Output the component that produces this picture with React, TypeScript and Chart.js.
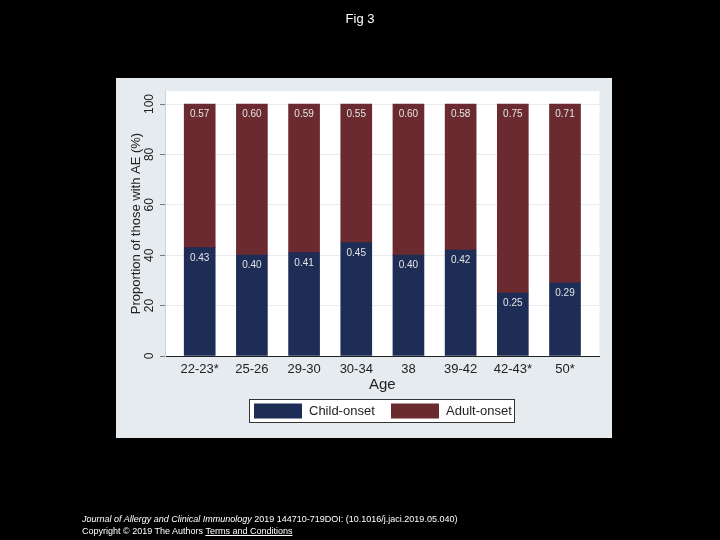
import React, { useEffect, useRef } from "react";
import { Chart, registerables } from "chart.js";

Chart.register(...registerables);

const categories = ["22-23*", "25-26", "29-30", "30-34", "38", "39-42", "42-43*", "50*"];
const childOnset = [0.43, 0.40, 0.41, 0.45, 0.40, 0.42, 0.25, 0.29];
const adultOnset = [0.57, 0.60, 0.59, 0.55, 0.60, 0.58, 0.75, 0.71];
const seriesNames = ["Child-onset", "Adult-onset"];
const yTicks = [0, 20, 40, 60, 80, 100];

const NAVY = "#1e2d56";
const MAROON = "#6a2a30";
const FONT = "'Liberation Sans', Arial, sans-serif";

const panelPlugin = {
  id: "panelBg",
  beforeDraw(chart: any) {
    const { ctx, chartArea } = chart;
    ctx.save();
    ctx.fillStyle = "#000000";
    ctx.fillRect(0, 0, chart.width, chart.height);
    ctx.fillStyle = "#e6ebef";
    ctx.fillRect(116, 78, 496, 360);
    ctx.fillStyle = "#ffffff";
    ctx.fillRect(chartArea.left, chartArea.top, chartArea.right - chartArea.left, chartArea.bottom - chartArea.top);
    ctx.restore();
  },
};

const valueLabelPlugin = {
  id: "valueLabels",
  afterDatasetsDraw(chart: any) {
    const { ctx } = chart;
    ctx.save();
    ctx.font = `10px ${FONT}`;
    ctx.fillStyle = "#e4e4e4";
    ctx.textAlign = "center";
    ctx.textBaseline = "middle";
    chart.data.datasets.forEach((ds: any, i: number) => {
      const meta = chart.getDatasetMeta(i);
      meta.data.forEach((bar: any, j: number) => {
        const v = ds.rawValues[j];
        ctx.fillText(v.toFixed(2), bar.x, bar.y + 10.5);
      });
    });
    ctx.restore();
  },
};

const legendPlugin = {
  id: "boxLegend",
  afterDraw(chart: any) {
    const { ctx, chartArea } = chart;
    const left = chartArea.left + 84;
    const top = chartArea.bottom + 43;
    const w = 266;
    const h = 24;
    ctx.save();
    ctx.fillStyle = "#ffffff";
    ctx.fillRect(left, top, w, h);
    ctx.strokeStyle = "#333333";
    ctx.lineWidth = 1;
    ctx.strokeRect(left + 0.5, top + 0.5, w - 1, h - 1);
    const offsets = [5, 142];
    chart.data.datasets.forEach((ds: any, i: number) => {
      const x = left + offsets[i];
      ctx.fillStyle = ds.backgroundColor;
      ctx.fillRect(x, top + 4.5, 48, 15);
      ctx.fillStyle = "#222222";
      ctx.font = `13px ${FONT}`;
      ctx.textAlign = "left";
      ctx.textBaseline = "middle";
      ctx.fillText(ds.label, x + 55, top + 12.5);
    });
    ctx.restore();
  },
};

export default function App() {
  const ref = useRef<HTMLCanvasElement | null>(null);

  useEffect(() => {
    if (!ref.current) return;
    Chart.defaults.font.family = FONT;
    const chart = new Chart(ref.current, {
      type: "bar",
      data: {
        datasets: [
          {
            label: seriesNames[0],
            data: childOnset.map((v, i) => ({ x: i, y: v * 100 })),
            rawValues: childOnset,
            backgroundColor: NAVY,
            borderWidth: 0,
            barThickness: 31,
          } as any,
          {
            label: seriesNames[1],
            data: adultOnset.map((v, i) => ({ x: i, y: v * 100 })),
            rawValues: adultOnset,
            backgroundColor: MAROON,
            borderWidth: 0,
            barThickness: 31,
          } as any,
        ],
      },
      options: {
        responsive: false,
        devicePixelRatio: 1,
        animation: false,
        layout: { padding: { left: 116, top: 91, right: 120.5, bottom: 144 } },
        plugins: { legend: { display: false }, title: { display: false }, tooltip: { enabled: false } },
        scales: {
          x: {
            type: "linear",
            stacked: true,
            offset: false,
            min: -0.665,
            max: 7.661,
            afterBuildTicks: (s: any) => {
              s.ticks = categories.map((_, i) => ({ value: i }));
            },
            afterFit: (s: any) => {
              s.height = 40;
            },
            grid: { display: false, drawTicks: false },
            border: { display: true, color: "#222222", width: 1 },
            ticks: {
              autoSkip: false,
              maxRotation: 0,
              minRotation: 0,
              padding: 6,
              color: "#222222",
              font: { size: 13 },
              callback: (v: any) => categories[v as number],
            },
            title: { display: true, text: "Age", color: "#222222", font: { size: 15 }, padding: { top: 0, bottom: 2 } },
          },
          y: {
            stacked: true,
            min: 0,
            max: 105.16,
            afterBuildTicks: (s: any) => {
              s.ticks = yTicks.map((v) => ({ value: v }));
            },
            afterFit: (s: any) => {
              s.width = 49;
            },
            grid: { color: "#e9eaea", drawTicks: true, tickLength: 5, tickColor: "#777777" },
            border: { display: true, color: "#cfd3d6", width: 1 },
            ticks: {
              minRotation: 90,
              maxRotation: 90,
              crossAlign: "center",
              padding: 0,
              color: "#222222",
              font: { size: 12 },
            },
            title: {
              display: true,
              text: "Proportion of those with AE (%)",
              color: "#222222",
              font: { size: 13 },
              padding: { top: 13, bottom: 0 },
            },
          },
        },
      } as any,
      plugins: [panelPlugin, valueLabelPlugin, legendPlugin],
    });
    return () => chart.destroy();
  }, []);

  return (
    <div style={{ position: "fixed", left: 0, top: 0, width: 720, height: 540, background: "#000", overflow: "hidden" }}>
      <canvas ref={ref} width={720} height={540} style={{ display: "block", width: 720, height: 540 }} />
      <div
        style={{
          position: "absolute",
          left: 0,
          top: 11,
          width: 720,
          textAlign: "center",
          color: "#fff",
          font: `13px ${FONT}`,
          lineHeight: "16px",
        }}
      >
        Fig 3
      </div>
      <div
        style={{
          position: "absolute",
          left: 82,
          top: 513,
          color: "#fff",
          font: `9px ${FONT}`,
          lineHeight: "12px",
          whiteSpace: "nowrap",
        }}
      >
        <div>
          <i>Journal of Allergy and Clinical Immunology</i> 2019 144710-719DOI: (10.1016/j.jaci.2019.05.040)
        </div>
        <div>
          Copyright © 2019 The Authors <span style={{ textDecoration: "underline" }}>Terms and Conditions</span>
        </div>
      </div>
    </div>
  );
}
